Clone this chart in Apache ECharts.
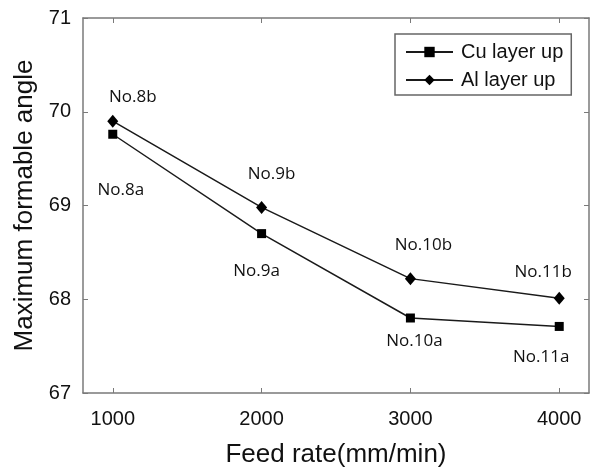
<!DOCTYPE html>
<html>
<head>
<meta charset="utf-8">
<script src="https://cdn.jsdelivr.net/npm/echarts@6/dist/echarts.min.js"></script>
<style>
  html, body { margin: 0; padding: 0; background: #fff; }
  #chart { width: 594px; height: 469px; }
</style>
</head>
<body>
<div id="chart"></div>
<script>
// Feed rate (mm/min) on the x axis
const feedRates = [1000, 2000, 3000, 4000];
// Maximum formable angle for each stacking order
const cuLayerUp = [69.76, 68.70, 67.80, 67.71];
const alLayerUp = [69.90, 68.98, 68.22, 68.01];
// Specimen names written next to each point
const cuNames = ['No.8a', 'No.9a', 'No.10a', 'No.11a'];
const alNames = ['No.8b', 'No.9b', 'No.10b', 'No.11b'];
const yTicks = [67, 68, 69, 70, 71];

// Label offsets (px) from each marker, kept apart from the values
const cuLabelOffsets = [[8, 56], [-5, 38], [4, 23], [-18, 31]];
const alLabelOffsets = [[20, -24], [10, -33], [13, -33], [-16, -26]];

const axisGray = '#7a7a7a';
const lineColor = '#1a1a1a';
const sansFont = 'Liberation Sans, Arial, sans-serif';

function buildSeriesData(xs, ys, names, offsets) {
  return xs.map((x, i) => ({
    value: [x, ys[i]],
    name: names[i],
    label: { offset: offsets[i] }
  }));
}

function makeSeries(name, symbol, size, xs, ys, names, offsets) {
  return {
    name: name,
    type: 'line',
    symbol: symbol,
    symbolSize: size,
    showAllSymbol: true,
    data: buildSeriesData(xs, ys, names, offsets),
    lineStyle: { color: lineColor, width: 1.5 },
    itemStyle: { color: '#000' },
    label: {
      show: true,
      position: 'inside',
      formatter: p => p.data.name,
      color: '#111',
      fontFamily: 'Open Sans, Noto Sans, sans-serif',
      fontSize: 17
    },
    emphasis: { disabled: true },
    animation: false
  };
}

const chart = echarts.init(document.getElementById('chart'), null, { renderer: 'canvas' });

const xRange = { min: 800, max: 4200 };

chart.setOption({
  backgroundColor: '#fff',
  animation: false,
  grid: { left: 83, right: 5, top: 18, bottom: 76, containLabel: false, outerBoundsMode: 'none' },
  legend: {
    orient: 'vertical',
    left: 395,
    top: 34,
    padding: [7, 8, 4, 10],
    itemGap: 6,
    itemWidth: 47,
    itemHeight: 13,
    borderColor: '#666',
    borderWidth: 1.5,
    backgroundColor: '#fff',
    textStyle: { fontFamily: sansFont, fontSize: 20, color: '#111', lineHeight: 22, padding: [0, 0, 0, 3] },
    data: ['Cu layer up', 'Al layer up']
  },
  xAxis: [
    {
      type: 'value',
      min: xRange.min,
      max: xRange.max,
      name: 'Feed rate(mm/min)',
      nameLocation: 'middle',
      nameGap: 49,
      nameTextStyle: { fontFamily: sansFont, fontSize: 26, color: '#111' },
      axisLine: { show: true, lineStyle: { color: axisGray, width: 1.5 } },
      axisTick: { show: true, inside: true, length: 5, customValues: feedRates, lineStyle: { color: axisGray } },
      axisLabel: {
        customValues: feedRates,
        formatter: v => String(v),
        margin: 16,
        fontFamily: sansFont,
        fontSize: 20,
        color: '#111'
      },
      splitLine: { show: false }
    },
    {
      type: 'value',
      position: 'top',
      min: xRange.min,
      max: xRange.max,
      axisLine: { show: true, lineStyle: { color: axisGray, width: 1.5 } },
      axisTick: { show: true, inside: true, length: 5, customValues: feedRates, lineStyle: { color: axisGray } },
      axisLabel: { show: false },
      splitLine: { show: false }
    }
  ],
  yAxis: [
    {
      type: 'value',
      min: yTicks[0],
      max: yTicks[yTicks.length - 1],
      interval: 1,
      name: 'Maximum formable angle',
      nameLocation: 'middle',
      nameGap: 40,
      nameTextStyle: { fontFamily: sansFont, fontSize: 26, color: '#111' },
      axisLine: { show: true, lineStyle: { color: axisGray, width: 1.5 } },
      axisTick: { show: true, inside: true, length: 5, lineStyle: { color: axisGray } },
      axisLabel: { margin: 12, fontFamily: sansFont, fontSize: 20, color: '#111' },
      splitLine: { show: false }
    },
    {
      type: 'value',
      position: 'right',
      min: yTicks[0],
      max: yTicks[yTicks.length - 1],
      interval: 1,
      axisLine: { show: true, lineStyle: { color: axisGray, width: 1.5 } },
      axisTick: { show: true, inside: true, length: 5, lineStyle: { color: axisGray } },
      axisLabel: { show: false },
      splitLine: { show: false }
    }
  ],
  series: [
    makeSeries('Cu layer up', 'rect', 9, feedRates, cuLayerUp, cuNames, cuLabelOffsets),
    makeSeries('Al layer up', 'diamond', [11, 13], feedRates, alLayerUp, alNames, alLabelOffsets)
  ]
});
</script>
</body>
</html>
